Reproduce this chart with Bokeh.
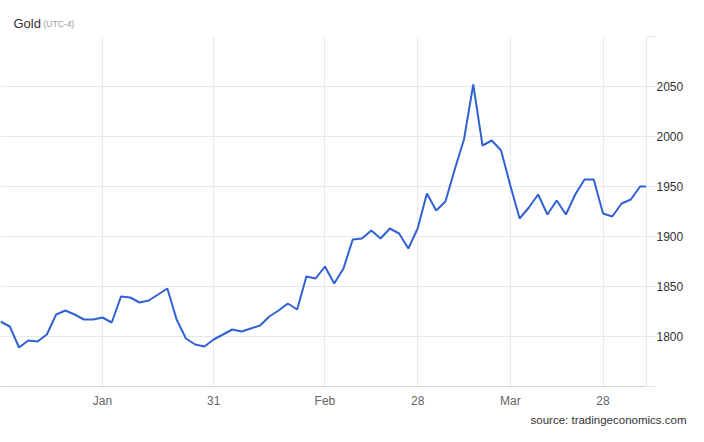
from bokeh.plotting import figure
from bokeh.models import FixedTicker, Label, Range1d, Title
from bokeh.layouts import column
from bokeh.embed import file_html
from bokeh.resources import INLINE

# Gold price (USD/t.oz), one value per trading session
prices = [1815, 1810, 1789, 1796, 1795, 1802, 1822, 1826, 1822, 1817,
          1817, 1819, 1814, 1840, 1839, 1834, 1836, 1842, 1848, 1817,
          1798, 1792, 1790, 1797, 1802, 1807, 1805, 1808, 1811, 1820,
          1826, 1833, 1827, 1860, 1858, 1870, 1853, 1868, 1897, 1898,
          1906, 1898, 1908, 1903, 1888, 1908, 1943, 1926, 1935, 1967,
          1997, 2052, 1991, 1996, 1986, 1951, 1918, 1929, 1942, 1922,
          1936, 1922, 1942, 1957, 1957, 1923, 1920, 1933, 1937, 1950,
          1950]
sessions = list(range(len(prices)))

# x-axis tick labels and the session index where each falls
x_tick_pos = [11, 23, 35, 45, 55, 65]
x_tick_labels = ["Jan", "31", "Feb", "28", "Mar", "28"]

# y-axis ticks
y_ticks = [1750, 1800, 1850, 1900, 1950, 2000, 2050, 2100]
y_tick_labels = ["", "1800", "1850", "1900", "1950", "2000", "2050", ""]

title_text = "Gold"
subtitle_text = "(UTC-4)"
source_text = "source: tradingeconomics.com"

FONT = "Liberation Sans"
GRID = "#e9e9e9"
W = 688
HEAD_H, MAIN_H = 30, 396

head = figure(width=W, height=HEAD_H, output_backend="svg", toolbar_location=None,
              x_axis_type=None, y_axis_type=None, title=None,
              x_range=Range1d(0, 1), y_range=Range1d(0, 1),
              min_border=0, min_border_left=0, min_border_right=0,
              min_border_top=0, min_border_bottom=0)
head.outline_line_color = None
head.grid.visible = False
head.add_layout(Label(x=13, y=7, x_units="screen", y_units="screen", text=title_text,
                      text_font=FONT, text_font_size="13px", text_color="#333333",
                      text_baseline="alphabetic"))
head.add_layout(Label(x=43, y=7, x_units="screen", y_units="screen", text=subtitle_text,
                      text_font=FONT, text_font_size="8.5px", text_color="#999999",
                      text_baseline="alphabetic"))

p = figure(width=W, height=MAIN_H, output_backend="svg", toolbar_location=None,
           y_axis_location="right", title=None,
           x_range=Range1d(0, 69.69), y_range=Range1d(1750, 2100),
           min_border_left=0, min_border_right=42, min_border_top=6,
           min_border_bottom=39)
p.outline_line_color = None
p.background_fill_color = "white"
p.border_fill_color = "white"

p.line(sessions, prices, line_color="#3162d4", line_width=2)

# x axis
p.xaxis.ticker = FixedTicker(ticks=x_tick_pos)
p.xaxis.major_label_overrides = {t: l for t, l in zip(x_tick_pos, x_tick_labels)}
p.xaxis.major_tick_line_color = None
p.xaxis.major_tick_out = 0
p.xaxis.major_tick_in = 0
p.xaxis.minor_tick_line_color = None
p.xaxis.axis_line_color = "#d6d6d6"
p.xaxis.major_label_text_font = FONT
p.xaxis.major_label_text_font_size = "12px"
p.xaxis.major_label_text_color = "#666666"
p.xaxis.major_label_standoff = 7

# y axis
p.yaxis.ticker = FixedTicker(ticks=y_ticks)
p.yaxis.major_label_overrides = {t: l for t, l in zip(y_ticks, y_tick_labels)}
p.yaxis.major_tick_line_color = GRID
p.yaxis.major_tick_out = 10
p.yaxis.major_tick_in = 0
p.yaxis.minor_tick_line_color = None
p.yaxis.axis_line_color = GRID
p.yaxis.major_label_text_font = FONT
p.yaxis.major_label_text_font_size = "12px"
p.yaxis.major_label_text_color = "#333333"
p.yaxis.major_label_standoff = 0

p.xgrid.ticker = FixedTicker(ticks=x_tick_pos)
p.xgrid.grid_line_color = GRID
p.ygrid.ticker = FixedTicker(ticks=y_ticks)
p.ygrid.grid_line_color = GRID

# source note below the x axis, right-aligned near the canvas edge
p.add_layout(Title(text=source_text, align="right", offset=-40, standoff=2,
                   text_font=FONT, text_font_size="11.5px", text_font_style="normal",
                   text_color="#333333"), "below")

layout = column(head, p, spacing=0)
open("out.html", "w").write(file_html(layout, INLINE))
